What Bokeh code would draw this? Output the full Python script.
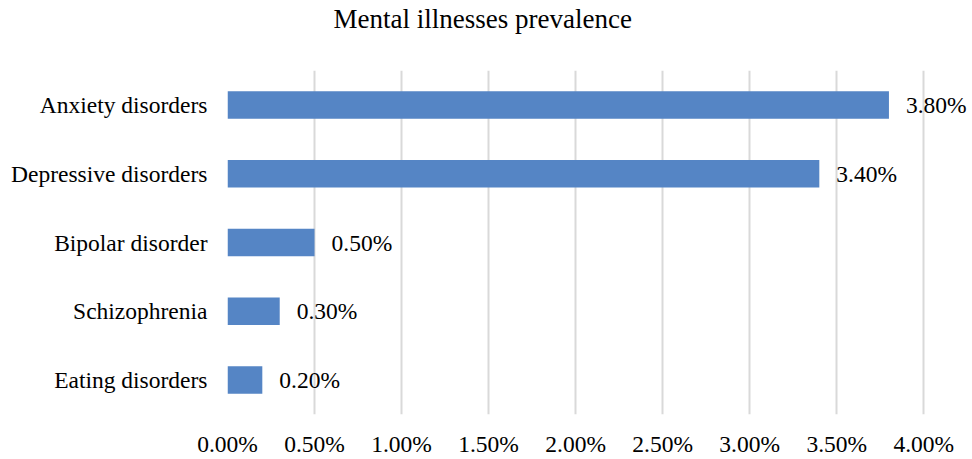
from bokeh.plotting import figure
from bokeh.models import FactorRange, Range1d, FixedTicker, PrintfTickFormatter, ColumnDataSource, Title
from bokeh.core.properties import value
from bokeh.embed import file_html
from bokeh.resources import INLINE

# Prevalence of mental illnesses (percent of population)
categories = ["Anxiety disorders", "Depressive disorders", "Bipolar disorder", "Schizophrenia", "Eating disorders"]
prevalence = [3.80, 3.40, 0.50, 0.30, 0.20]
x_ticks = [0.0, 0.5, 1.0, 1.5, 2.0, 2.5, 3.0, 3.5, 4.0]

FONT = "Liberation Serif"
BAR_COLOR = "#5585C5"
LABEL_SIZE = "23.5px"

source = ColumnDataSource(dict(
    cat=categories,
    val=prevalence,
    label=[f"{v:.2f}%" for v in prevalence],
))

# the x range runs a little past 4% so the value labels have room on the right
p = figure(
    width=972, height=459,
    title=None,
    y_range=FactorRange(*reversed(categories)),
    x_range=Range1d(0, 4.28),
    output_backend="svg", toolbar_location=None,
    min_border_left=227, min_border_right=0,
    min_border_top=0, min_border_bottom=43,
)
p.outline_line_color = None

p.hbar(y="cat", right="val", left=0, height=0.4, source=source,
       fill_color=BAR_COLOR, line_color=None)

p.text(x="val", y="cat", text="label", source=source,
       x_offset=17, text_baseline="middle", text_align="left",
       text_font=value(FONT), text_font_size=LABEL_SIZE, text_color="#000000")

# axes
p.xaxis.ticker = FixedTicker(ticks=x_ticks)
p.xaxis.formatter = PrintfTickFormatter(format="%.2f%%")
for ax in (p.xaxis[0], p.yaxis[0]):
    ax.axis_line_color = None
    ax.major_tick_line_color = None
    ax.minor_tick_line_color = None
    ax.major_label_text_font = FONT
    ax.major_label_text_font_size = LABEL_SIZE
    ax.major_label_text_color = "#000000"
p.xaxis.major_label_standoff = 10
p.yaxis.major_label_standoff = 14

p.xgrid.grid_line_color = "#D9D9D9"
p.xgrid.grid_line_width = 2
p.ygrid.grid_line_color = None

# blank band between the title and the bars
p.add_layout(Title(text=" ", text_font_size="10px", standoff=23), "above")
# chart title, shifted so it sits centred on the whole canvas
p.add_layout(Title(text="Mental illnesses prevalence", align="left", offset=106,
                   standoff=2, text_font=FONT, text_font_size="27px",
                   text_font_style="normal", text_color="#000000"), "above")

open("out.html", "w").write(file_html(p, INLINE))
